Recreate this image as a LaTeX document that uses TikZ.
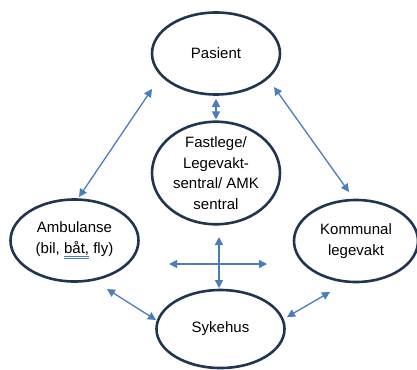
\documentclass[tikz,border=0pt]{standalone}
\usepackage{fontspec}
\setmainfont{Liberation Sans}
\usepackage{xcolor}
\usetikzlibrary{shapes.geometric,arrows.meta}
\definecolor{ringnavy}{HTML}{1F3552}
\definecolor{linkblue}{HTML}{4A7EBB}
\tikzset{
  place/.style={draw=ringnavy, line width=2.6pt, ellipse, inner sep=0pt,
    minimum width=128pt, minimum height=82pt, align=center,
    font=\fontsize{15}{20.5}\selectfont},
  link/.style={draw=linkblue, line width=1.3pt,
    {Triangle[length=8pt,width=8pt]}-{Triangle[length=8pt,width=8pt]}}
}

\begin{document}
\begin{tikzpicture}[x=1pt,y=-1pt]
    \useasboundingbox (0,0) rectangle (417,369);

    % Places
    \node[place] (pas) at (216,53.5) {Pasient};
    \node[place, minimum height=100pt] (fast) at (216,173)
      {Fastlege/\\Legevakt-\\sentral/ AMK\\sentral};
    \node[place] (amb) at (74.5,240.5)
      {Ambulanse\\(bil, {\color{linkblue}\underline{\underline{\color{black}båt,}}} fly)};
    \node[place, minimum width=124pt] (kom) at (356,241) {Kommunal\\legevakt};
    \node[place, minimum height=78pt] (syk) at (220.5,329) {Sykehus};

    % Arrow ends
    \coordinate (ambTop) at (79,197);
    \coordinate (pasLeft) at (152,89);
    \coordinate (pasRight) at (274,87);
    \coordinate (komTop) at (349,192);
    \coordinate (ambLow) at (107,289);
    \coordinate (sykLeft) at (156,320);
    \coordinate (sykRight) at (287,317);
    \coordinate (komLow) at (330,292);
    \coordinate (crossN) at (219,237);
    \coordinate (crossS) at (219,288);
    \coordinate (crossW) at (169,264);
    \coordinate (crossE) at (267,264);

    % Links
    \draw[link, shorten <=3pt, shorten >=1pt] (pas) -- (fast);
    \draw[link] (ambTop) -- (pasLeft);
    \draw[link] (pasRight) -- (komTop);
    \draw[link] (ambLow) -- (sykLeft);
    \draw[link] (sykRight) -- (komLow);
    \draw[link] (crossN) -- (crossS);
    \draw[link] (crossW) -- (crossE);
\end{tikzpicture}
\end{document}
